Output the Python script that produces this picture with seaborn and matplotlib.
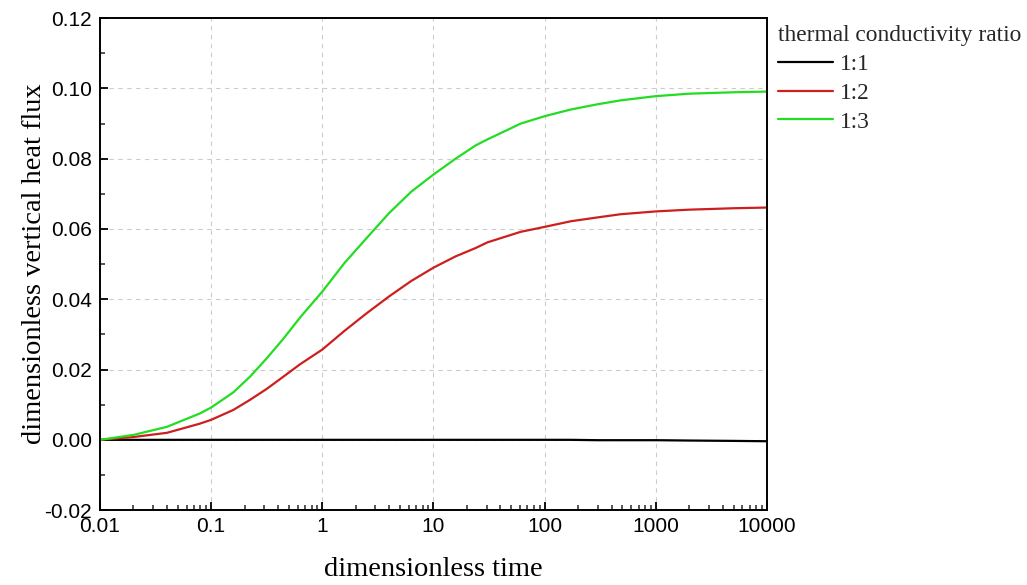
import numpy as np
import pandas as pd
import matplotlib
matplotlib.use("Agg")
import matplotlib.pyplot as plt
import seaborn as sns
from matplotlib.ticker import LogLocator, MultipleLocator, FixedLocator, NullFormatter

# ---- data ----
time = [0.01, 0.02, 0.04, 0.079, 0.1, 0.158, 0.224, 0.316, 0.447, 0.63, 1, 1.58, 2.5, 3.98,
        6.3, 10, 15.8, 24, 30.6, 61, 100, 172, 300, 483, 1000, 2000, 5000, 10000]
flux_11 = [0.0, 0.0, 0.0, 0.0, 0.0, 0.0, 0.0, 0.0, 0.0, 0.0, 0.0, 0.0, 0.0, 0.0,
           0.0, 0.0, 0.0, 0.0, 0.0, 0.0, 0.0, 0.0, -0.0001, -0.0001, -0.0001, -0.0002, -0.0003, -0.0004]
flux_12 = [0.0, 0.0008, 0.0020, 0.0046, 0.0057, 0.0085, 0.0114, 0.0145, 0.0180, 0.0215, 0.0257, 0.0310, 0.0360, 0.0408,
           0.0452, 0.0490, 0.0522, 0.0546, 0.0562, 0.0592, 0.0606, 0.0622, 0.0633, 0.0642, 0.0650, 0.0655, 0.0659, 0.0661]
flux_13 = [0.0, 0.0014, 0.0037, 0.0075, 0.0092, 0.0135, 0.0180, 0.0232, 0.0288, 0.0348, 0.0422, 0.0503, 0.0574, 0.0645,
           0.0706, 0.0755, 0.0800, 0.0838, 0.0855, 0.0900, 0.0921, 0.0940, 0.0955, 0.0966, 0.0978, 0.0985, 0.0989, 0.0991]
ratios = ["1:1", "1:2", "1:3"]
colors = ["#000000", "#cc1f1f", "#22dd22"]
x_ticks = [0.01, 0.1, 1, 10, 100, 1000, 10000]
x_ticklabels = ["0.01", "0.1", "1", "10", "100", "1000", "10000"]
y_ticks = [-0.02, 0.00, 0.02, 0.04, 0.06, 0.08, 0.10, 0.12]
y_ticklabels = ["-0.02", "0.00", "0.02", "0.04", "0.06", "0.08", "0.10", "0.12"]

df = pd.DataFrame({
    "time": time * 3,
    "flux": flux_11 + flux_12 + flux_13,
    "ratio": [ratios[0]] * len(time) + [ratios[1]] * len(time) + [ratios[2]] * len(time),
})

sns.set_theme(style="white")
plt.rcParams["font.family"] = ["Liberation Sans", "DejaVu Sans"]

fig = plt.figure(figsize=(10.27, 5.85), dpi=100)
ax = fig.add_axes([0.0974, 0.128, 0.6494, 0.841])

sns.lineplot(data=df, x="time", y="flux", hue="ratio", palette=dict(zip(ratios, colors)),
             linewidth=1.6, ax=ax, legend=True)

ax.set_xscale("log")
ax.set_xlim(0.01, 10000)
ax.set_ylim(-0.02, 0.12)
ax.xaxis.set_major_locator(FixedLocator(x_ticks))
ax.set_xticklabels(x_ticklabels)
ax.xaxis.set_minor_locator(LogLocator(base=10, subs=np.arange(2, 10)))
ax.xaxis.set_minor_formatter(NullFormatter())
ax.yaxis.set_major_locator(FixedLocator(y_ticks))
ax.set_yticklabels(y_ticklabels)
ax.yaxis.set_minor_locator(MultipleLocator(0.01))

ax.grid(True, which="major", linestyle=(0, (4, 4)), color="#cccccc", linewidth=0.8)
ax.tick_params(axis="both", which="major", direction="in", length=6, width=1.3,
               labelsize=15, colors="black", bottom=True, left=True, top=False, right=False, pad=6)
ax.tick_params(axis="x", which="major", pad=5)
ax.tick_params(axis="both", which="minor", direction="in", length=3.5, width=1.1,
               bottom=True, left=True, top=False, right=False)
for s in ax.spines.values():
    s.set_visible(True)
    s.set_color("black")
    s.set_linewidth(1.4)

ax.set_xlabel("dimensionless time", family=["Liberation Serif"], fontsize=20.5, labelpad=15, color="black")
ax.set_ylabel("dimensionless vertical heat flux", family=["Liberation Serif"], fontsize=20.5, color="black")
ax.yaxis.set_label_coords(-0.08, 0.5)

handles, labels = ax.get_legend_handles_labels()
leg = ax.legend(handles, labels, title="thermal conductivity ratio", loc="upper left",
                bbox_to_anchor=(1.006, 1.0), frameon=False, handlelength=2.35, handletextpad=0.3,
                labelspacing=0.32, borderaxespad=0.1, borderpad=0.2,
                prop={"family": "Liberation Serif", "size": 16.8},
                title_fontproperties={"family": "Liberation Serif", "size": 16.8})
leg._legend_box.align = "left"

fig.savefig("out.png", dpi=100)
